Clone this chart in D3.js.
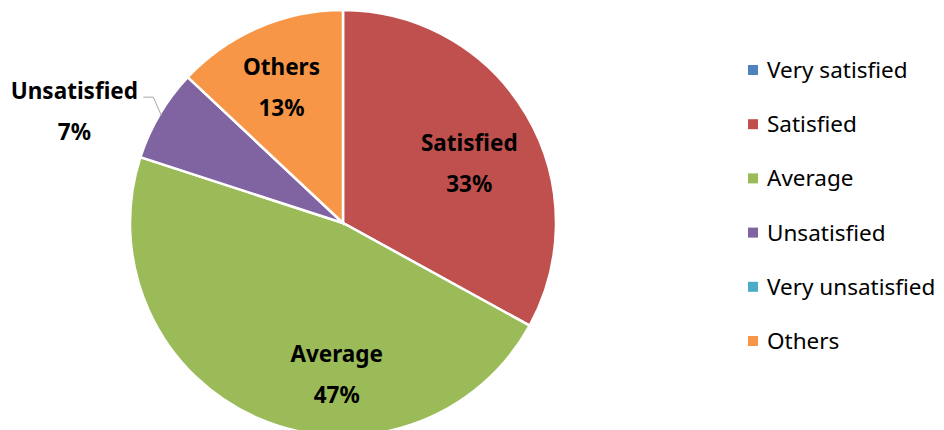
<!DOCTYPE html>
<html>
<head>
<meta charset="utf-8">
<script src="https://cdn.jsdelivr.net/npm/d3@7"></script>
<style>
  body { margin: 0; background: #fff; }
  text { font-family: "Noto Sans", "Open Sans", sans-serif; }
</style>
</head>
<body>
<svg id="chart" width="944" height="430"></svg>
<script>
// data
const categories = ["Very satisfied", "Satisfied", "Average", "Unsatisfied", "Very unsatisfied", "Others"];
const shares = [0, 33, 47, 7, 0, 13];
const colors = ["#4F81BD", "#C0504D", "#9BBB59", "#8064A2", "#4BACC6", "#F79646"];

const svg = d3.select("#chart");
const cx = 343, cy = 223, radius = 213;

const data = categories.map((c, i) => ({ name: c, value: shares[i], color: colors[i] }));

const pie = d3.pie().value(d => d.value).sort(null);
const arc = d3.arc().innerRadius(0).outerRadius(radius);
const arcs = pie(data);

const g = svg.append("g").attr("transform", `translate(${cx},${cy})`);

g.selectAll("path.slice")
  .data(arcs.filter(d => d.data.value > 0))
  .enter().append("path")
  .attr("class", "slice")
  .attr("d", arc)
  .style("fill", d => d.data.color)
  .attr("stroke", "#fff")
  .attr("stroke-width", 2.5);

// Excel "best fit" moves labels a bit off the centroid: angle shift (deg) and radius
const labelFit = {
  "Satisfied":   { da: 5,   r: 140 },
  "Average":     { da: -21, r: 151 },
  "Unsatisfied": { da: -8,  r: 291 },
  "Others":      { da: -1,  r: 149 }
};

const labels = g.selectAll("g.lbl")
  .data(arcs.filter(d => d.data.value > 0))
  .enter().append("g")
  .attr("class", "lbl")
  .attr("transform", d => {
    const fit = labelFit[d.data.name];
    const a = (d.startAngle + d.endAngle) / 2 + fit.da * Math.PI / 180;
    return `translate(${fit.r * Math.sin(a)},${-fit.r * Math.cos(a)})`;
  });

labels.append("text")
  .attr("text-anchor", "middle")
  .attr("y", -12)
  .attr("font-size", 22.5)
  .attr("font-weight", "bold")
  .style("fill", "#000")
  .text(d => d.data.name);

labels.append("text")
  .attr("text-anchor", "middle")
  .attr("y", 29)
  .attr("font-size", 22.5)
  .attr("font-weight", "bold")
  .style("fill", "#000")
  .text(d => d.data.value + "%");

// leader line for the outside label
const outside = arcs.find(d => d.data.name === "Unsatisfied");
{
  const fit = labelFit[outside.data.name];
  const a = (outside.startAngle + outside.endAngle) / 2 + fit.da * Math.PI / 180;
  const lx = fit.r * Math.sin(a), ly = -fit.r * Math.cos(a);
  const ma = (outside.startAngle + outside.endAngle) / 2;
  const ex = (radius - 2) * Math.sin(ma), ey = -(radius - 2) * Math.cos(ma);
  g.append("polyline")
    .attr("points", `${lx + 69},${ly - 14} ${lx + 79},${ly - 14} ${ex},${ey}`)
    .attr("fill", "none")
    .attr("stroke", "#a6a6a6")
    .attr("stroke-width", 1);
}

// legend
const legend = svg.append("g").attr("transform", "translate(748,70)");
const rows = legend.selectAll("g.row")
  .data(data)
  .enter().append("g")
  .attr("class", "row")
  .attr("transform", (d, i) => `translate(0,${i * 54.2})`);

rows.append("rect")
  .attr("x", 0).attr("y", -5)
  .attr("width", 10).attr("height", 10)
  .style("fill", d => d.color);

rows.append("text")
  .attr("x", 19).attr("y", 8)
  .attr("font-size", 22.5)
  .style("fill", "#000")
  .text(d => d.name);
</script>
</body>
</html>
